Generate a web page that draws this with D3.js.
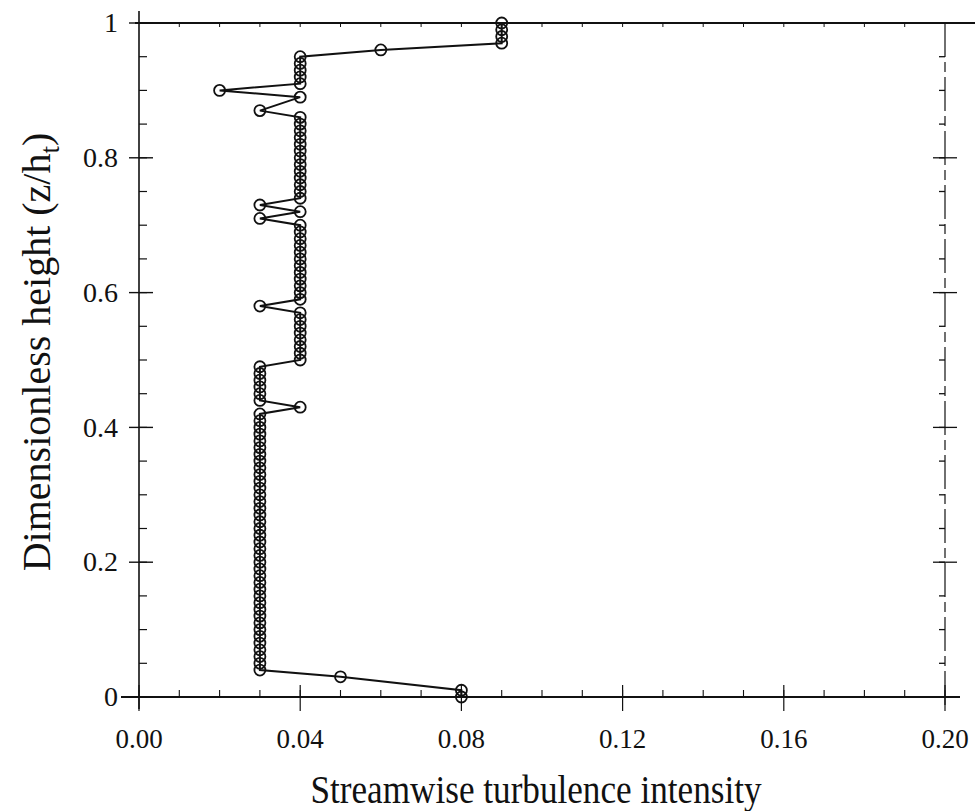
<!DOCTYPE html>
<html>
<head>
<meta charset="utf-8">
<script src="https://cdn.jsdelivr.net/npm/d3@7"></script>
<style>
  body { margin: 0; background: #fff; }
  svg text { font-family: "Liberation Serif", "Times New Roman", serif; fill: #111; }
</style>
</head>
<body>
<div id="chart"></div>
<script>
// dimensionless height z/h_t and streamwise turbulence intensity
const heights = [0.00, 0.01, 0.03, 0.04, 0.05, 0.06, 0.07, 0.08, 0.09, 0.10,
  0.11, 0.12, 0.13, 0.14, 0.15, 0.16, 0.17, 0.18, 0.19, 0.20,
  0.21, 0.22, 0.23, 0.24, 0.25, 0.26, 0.27, 0.28, 0.29, 0.30,
  0.31, 0.32, 0.33, 0.34, 0.35, 0.36, 0.37, 0.38, 0.39, 0.40,
  0.41, 0.42, 0.43, 0.44, 0.45, 0.46, 0.47, 0.48, 0.49, 0.50,
  0.51, 0.52, 0.53, 0.54, 0.55, 0.56, 0.57, 0.58, 0.59, 0.60,
  0.61, 0.62, 0.63, 0.64, 0.65, 0.66, 0.67, 0.68, 0.69, 0.70,
  0.71, 0.72, 0.73, 0.74, 0.75, 0.76, 0.77, 0.78, 0.79, 0.80,
  0.81, 0.82, 0.83, 0.84, 0.85, 0.86, 0.87, 0.89, 0.90, 0.91,
  0.92, 0.93, 0.94, 0.95, 0.96, 0.97, 0.98, 0.99, 1.00];
const intensity = [0.08, 0.08, 0.05, 0.03, 0.03, 0.03, 0.03, 0.03, 0.03, 0.03,
  0.03, 0.03, 0.03, 0.03, 0.03, 0.03, 0.03, 0.03, 0.03, 0.03,
  0.03, 0.03, 0.03, 0.03, 0.03, 0.03, 0.03, 0.03, 0.03, 0.03,
  0.03, 0.03, 0.03, 0.03, 0.03, 0.03, 0.03, 0.03, 0.03, 0.03,
  0.03, 0.03, 0.04, 0.03, 0.03, 0.03, 0.03, 0.03, 0.03, 0.04,
  0.04, 0.04, 0.04, 0.04, 0.04, 0.04, 0.04, 0.03, 0.04, 0.04,
  0.04, 0.04, 0.04, 0.04, 0.04, 0.04, 0.04, 0.04, 0.04, 0.04,
  0.03, 0.04, 0.03, 0.04, 0.04, 0.04, 0.04, 0.04, 0.04, 0.04,
  0.04, 0.04, 0.04, 0.04, 0.04, 0.04, 0.03, 0.04, 0.02, 0.04,
  0.04, 0.04, 0.04, 0.04, 0.06, 0.09, 0.09, 0.09, 0.09];

const xTicks = [0.00, 0.04, 0.08, 0.12, 0.16, 0.20];
const yTicks = [0, 0.2, 0.4, 0.6, 0.8, 1];
const xLabel = "Streamwise turbulence intensity";
const yLabel = "Dimensionless height (z/h";

const width = 975;
const height = 811;
const margin = {top: 23, right: 30, bottom: 114, left: 139};

const points = heights.map((z, i) => ({z: z, u: intensity[i]}));

const x = d3.scaleLinear().domain([0, 0.2]).range([margin.left, width - margin.right]);
const y = d3.scaleLinear().domain([0, 1]).range([height - margin.bottom, margin.top]);

const svg = d3.select("#chart").append("svg")
    .attr("width", width)
    .attr("height", height);

const x0 = x(0), x1 = x(0.2), y0 = y(0), y1 = y(1);

// frame lines
svg.append("line").attr("x1", x0).attr("x2", x0).attr("y1", y1 - 12).attr("y2", y0 + 12)
    .attr("stroke", "#111").attr("stroke-width", 1.6);
svg.append("line").attr("x1", x0 - 18).attr("x2", x1 + 15).attr("y1", y0).attr("y2", y0)
    .attr("stroke", "#111").attr("stroke-width", 1.8);
svg.append("line").attr("x1", x0 - 4).attr("x2", width).attr("y1", y1).attr("y2", y1)
    .attr("stroke", "#111").attr("stroke-width", 1.8);
svg.append("line").attr("x1", x1).attr("x2", x1).attr("y1", y1).attr("y2", y0 + 10)
    .attr("stroke", "#111").attr("stroke-width", 1.2)
    .attr("stroke-dasharray", "34 5 10 5");

// left axis: major ticks cross the line, minor ticks point inward
const yMinor = d3.range(0, 1.0001, 0.05);
svg.append("g").selectAll("line").data(yMinor).join("line")
    .attr("x1", x0).attr("x2", x0 + 8)
    .attr("y1", d => y(d)).attr("y2", d => y(d))
    .attr("stroke", "#111").attr("stroke-width", 1.2);
svg.append("g").selectAll("line").data(yTicks).join("line")
    .attr("x1", x0 - 10).attr("x2", x0 + 14)
    .attr("y1", d => y(d)).attr("y2", d => y(d))
    .attr("stroke", "#111").attr("stroke-width", 1.4);
svg.append("g").selectAll("text").data(yTicks).join("text")
    .attr("x", x0 - 21).attr("y", d => y(d))
    .attr("dy", "0.33em")
    .attr("text-anchor", "end")
    .attr("font-size", 28)
    .text(d => d3.format("")(+d.toFixed(1)));

// right axis ticks
svg.append("g").selectAll("line").data(yMinor).join("line")
    .attr("x1", x1 - 6).attr("x2", x1)
    .attr("y1", d => y(d)).attr("y2", d => y(d))
    .attr("stroke", "#111").attr("stroke-width", 1.3);
svg.append("g").selectAll("line").data(yTicks.slice(1, -1)).join("line")
    .attr("x1", x1 - 12).attr("x2", x1 + 12)
    .attr("y1", d => y(d)).attr("y2", d => y(d))
    .attr("stroke", "#111").attr("stroke-width", 1.3);

// bottom axis
const xMinor = d3.range(0, 0.2001, 0.01);
svg.append("g").selectAll("line").data(xMinor).join("line")
    .attr("x1", d => x(d)).attr("x2", d => x(d))
    .attr("y1", y0).attr("y2", y0 - 7)
    .attr("stroke", "#111").attr("stroke-width", 1.1);
svg.append("g").selectAll("line").data(xTicks).join("line")
    .attr("x1", d => x(d)).attr("x2", d => x(d))
    .attr("y1", y0 - 12).attr("y2", y0 + 14)
    .attr("stroke", "#111").attr("stroke-width", 1.2);
svg.append("g").selectAll("text").data(xTicks).join("text")
    .attr("x", d => x(d)).attr("y", y0 + 51)
    .attr("text-anchor", "middle")
    .attr("font-size", 27)
    .text(d => d3.format(".2f")(d));

// top axis minor ticks
svg.append("g").selectAll("line").data(xMinor.slice(1, -1)).join("line")
    .attr("x1", d => x(d)).attr("x2", d => x(d))
    .attr("y1", y1).attr("y2", y1 + 4)
    .attr("stroke", "#111").attr("stroke-width", 1);

// axis titles
svg.append("text")
    .attr("x", 536).attr("y", 803)
    .attr("text-anchor", "middle")
    .attr("font-size", 40)
    .attr("textLength", 451)
    .attr("lengthAdjust", "spacingAndGlyphs")
    .text(xLabel);

const yl = svg.append("text")
    .attr("transform", "translate(50,352) rotate(-90)")
    .attr("text-anchor", "middle")
    .attr("font-size", 40);
yl.append("tspan").text(yLabel);
yl.append("tspan").attr("font-size", 27).attr("dy", 9).text("t");
yl.append("tspan").attr("dy", -9).text(")");

// profile line and markers
const line = d3.line().x(d => x(d.u)).y(d => y(d.z));
svg.append("path").datum(points)
    .attr("d", line)
    .attr("fill", "none")
    .attr("stroke", "#111")
    .attr("stroke-width", 2);
svg.append("g").selectAll("circle").data(points).join("circle")
    .attr("cx", d => x(d.u)).attr("cy", d => y(d.z))
    .attr("r", 5.5)
    .attr("fill", "none")
    .attr("stroke", "#111")
    .attr("stroke-width", 1.8);
</script>
</body>
</html>
